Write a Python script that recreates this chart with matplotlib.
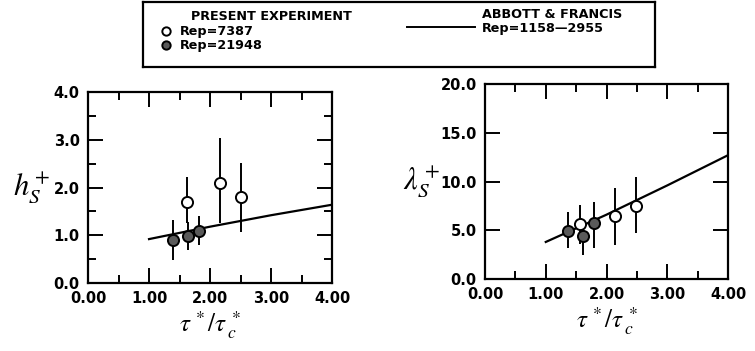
import numpy as np
import matplotlib
matplotlib.use("Agg")
import matplotlib.pyplot as plt
from matplotlib.ticker import MultipleLocator, FormatStrFormatter

plt.rcParams['mathtext.fontset'] = 'stix'

# ---- data ----
# roughness height h_s+
hs_open_x = [1.62, 2.16, 2.50]
hs_open_y = [1.70, 2.09, 1.80]
hs_open_lo = [1.26, 1.26, 1.07]
hs_open_hi = [2.22, 3.04, 2.51]

hs_fill_x = [1.39, 1.64, 1.82]
hs_fill_y = [0.90, 0.98, 1.09]
hs_fill_lo = [0.48, 0.69, 0.80]
hs_fill_hi = [1.32, 1.28, 1.40]

# streak spacing lambda_s+
lam_open_x = [1.56, 2.14, 2.49]
lam_open_y = [5.6, 6.5, 7.5]
lam_open_lo = [3.6, 3.5, 4.7]
lam_open_hi = [7.6, 9.3, 10.5]

lam_fill_x = [1.37, 1.62, 1.80]
lam_fill_y = [4.9, 4.4, 5.7]
lam_fill_lo = [3.2, 2.5, 3.2]
lam_fill_hi = [6.9, 5.6, 7.9]

# Abbott & Francis curves
af_x = [1.0, 2.0, 3.0, 4.0]
af_hs = [0.92, 1.18, 1.42, 1.64]
af_lam = [3.8, 6.6, 9.6, 12.7]

fill_col = '#5a5a5a'

fig = plt.figure(figsize=(7.55, 3.51), dpi=100)


def draw_panel(ax, ox, oy, olo, ohi, fx, fy, flo, fhi, cx, cy, ymax, ymaj, ymin):
    ax.plot(cx, cy, color='black', lw=1.6, zorder=2)
    # error bars
    ax.vlines(ox, olo, ohi, color='black', lw=1.4, zorder=3)
    ax.vlines(fx, flo, fhi, color='black', lw=1.4, zorder=3)
    ax.plot(ox, oy, 'o', ms=8, mfc='white', mec='black', mew=1.4, zorder=4)
    ax.plot(fx, fy, 'o', ms=8, mfc=fill_col, mec='black', mew=1.4, zorder=4)

    ax.set_xlim(0, 4)
    ax.set_ylim(0, ymax)
    ax.xaxis.set_major_locator(MultipleLocator(1))
    ax.xaxis.set_minor_locator(MultipleLocator(0.5))
    ax.yaxis.set_major_locator(MultipleLocator(ymaj))
    if ymin:
        ax.yaxis.set_minor_locator(MultipleLocator(ymin))
    ax.xaxis.set_major_formatter(FormatStrFormatter('%.2f'))
    ax.yaxis.set_major_formatter(FormatStrFormatter('%.1f'))
    ax.tick_params(which='both', direction='in', top=True, right=True,
                   width=1.4, labelsize=10.5, pad=6)
    ax.tick_params(which='major', length=11)
    ax.tick_params(which='minor', length=6)
    for lab in ax.get_xticklabels() + ax.get_yticklabels():
        lab.set_fontweight('bold')
    for sp in ax.spines.values():
        sp.set_linewidth(1.6)
    ax.set_xlabel(r'$\tau^{\,*}/\tau^{\,*}_{\,c}$', fontsize=18, labelpad=2)


ax1 = fig.add_axes([0.1166, 0.1937, 0.3232, 0.544])
draw_panel(ax1, hs_open_x, hs_open_y, hs_open_lo, hs_open_hi,
           hs_fill_x, hs_fill_y, hs_fill_lo, hs_fill_hi,
           af_x, af_hs, 4.0, 1.0, 0.5)
ax1.set_ylabel(r'$h_S^+$', fontsize=22, rotation=0, labelpad=16, va='center')

ax2 = fig.add_axes([0.6424, 0.2051, 0.3219, 0.5556])
draw_panel(ax2, lam_open_x, lam_open_y, lam_open_lo, lam_open_hi,
           lam_fill_x, lam_fill_y, lam_fill_lo, lam_fill_hi,
           af_x, af_lam, 20.0, 5.0, None)
ax2.set_ylabel(r'$\lambda_S^+$', fontsize=22, rotation=0, labelpad=14, va='center')

# ---- legend box ----
lax = fig.add_axes([143 / 755, 1 - 67 / 351, (655 - 143) / 755, 65 / 351])
lax.set_xlim(143, 655)
lax.set_ylim(67, 2)
lax.set_xticks([])
lax.set_yticks([])
for sp in lax.spines.values():
    sp.set_linewidth(1.6)
lkw = dict(fontsize=9.2, fontweight='bold', va='center', ha='left')
lax.text(191, 16, 'PRESENT EXPERIMENT', **lkw)
lax.plot([166], [31], 'o', ms=6, mfc='white', mec='black', mew=1.4)
lax.text(180, 31, 'Rep=7387', **lkw)
lax.plot([166], [45], 'o', ms=6, mfc=fill_col, mec='black', mew=1.4)
lax.text(180, 45, 'Rep=21948', **lkw)
lax.text(482, 14, 'ABBOTT & FRANCIS', **lkw)
lax.plot([407, 475], [27, 27], color='black', lw=1.4)
lax.text(482, 28, 'Rep=1158\u20142955', **lkw)

fig.savefig('out.png', dpi=100)
